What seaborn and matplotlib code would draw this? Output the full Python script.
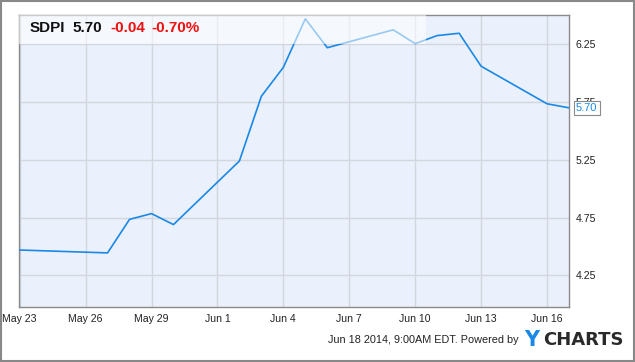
import numpy as np
import pandas as pd
import matplotlib
matplotlib.use("Agg")
import matplotlib.pyplot as plt
import matplotlib.transforms as mtransforms
from matplotlib.patches import Rectangle
import seaborn as sns

# ---- data ----
dates = ["2014-05-23", "2014-05-27", "2014-05-28", "2014-05-29", "2014-05-30",
         "2014-06-02", "2014-06-03", "2014-06-04", "2014-06-05", "2014-06-06",
         "2014-06-09", "2014-06-10", "2014-06-11", "2014-06-12", "2014-06-13",
         "2014-06-16", "2014-06-17"]
prices = [4.47, 4.445, 4.735, 4.785, 4.69, 5.24, 5.80, 6.05, 6.47, 6.22,
          6.375, 6.255, 6.325, 6.345, 6.06, 5.735, 5.70]
x_tick_dates = ["2014-05-23", "2014-05-26", "2014-05-29", "2014-06-01", "2014-06-04",
                "2014-06-07", "2014-06-10", "2014-06-13", "2014-06-16"]
x_tick_labels = ["May 23", "May 26", "May 29", "Jun 1", "Jun 4",
                 "Jun 7", "Jun 10", "Jun 13", "Jun 16"]
y_ticks = [4.25, 4.75, 5.25, 5.75, 6.25]
ticker = "SDPI"
last_price = "5.70"
change = "-0.04"
change_pct = "-0.70%"
footer = "Jun 18 2014, 9:00AM EDT. Powered by"

start = pd.Timestamp(dates[0])
df = pd.DataFrame({"date": pd.to_datetime(dates), "price": prices})
df["day"] = (df["date"] - start).dt.days
tick_days = [(pd.Timestamp(d) - start).days for d in x_tick_dates]

sns.set_style("white", {"axes.facecolor": "#eaf1fc"})
plt.rcParams["font.family"] = ["Liberation Sans", "DejaVu Sans"]

fig = plt.figure(figsize=(6.35, 3.62), dpi=100)
fig.patch.set_facecolor("white")
ax = fig.add_axes([19 / 635, 1 - 307 / 362, 550 / 635, 292 / 362])

LINE = "#1a88e6"
sns.lineplot(data=df, x="day", y="price", ax=ax, color=LINE, linewidth=1.2, zorder=3)

ax.set_xlim(-0.03, 25.0)
ax.set_ylim(3.977, 6.503)
ax.set_xticks(tick_days)
ax.set_xticklabels(x_tick_labels)
ax.set_yticks(y_ticks)
ax.set_yticklabels([f"{v:.2f}" for v in y_ticks])
ax.yaxis.tick_right()
ax.set_xlabel("")
ax.set_ylabel("")
ax.tick_params(axis="both", length=0, labelsize=7.6, colors="#222222")
ax.tick_params(axis="x", pad=5)
ax.tick_params(axis="y", pad=4.5)
ax.grid(True, color="#d3d6dc", linewidth=1.0, zorder=0)
ax.set_axisbelow(True)
for s in ax.spines.values():
    s.set_visible(True)
    s.set_color("#8a8a8a")
    s.set_linewidth(1.0)

# translucent header band over the upper-left of the plot
ax.add_patch(Rectangle((0, (6.25 - 3.977) / (6.503 - 3.977)), 0.74, 1,
                       transform=ax.transAxes, facecolor="white", alpha=0.55,
                       edgecolor="none", zorder=4, clip_on=True))

# header text
ty = 1 - 28.5 / 362
fig.text(30 / 635, ty, ticker, fontsize=11, fontweight="bold", color="#111111", va="center")
fig.text(72.5 / 635, ty, last_price, fontsize=11, fontweight="bold", color="#111111", va="center")
fig.text(110 / 635, ty, change, fontsize=11, fontweight="bold", color="#ee1111", va="center")
fig.text(151 / 635, ty, change_pct, fontsize=11, fontweight="bold", color="#ee1111", va="center")

# last value tag
trans = mtransforms.blended_transform_factory(ax.transAxes, ax.transData)
ax.text(1 + 7 / 550, prices[-1], last_price, transform=trans, fontsize=8, color=LINE,
        ha="left", va="center", zorder=6, clip_on=False,
        bbox=dict(boxstyle="square,pad=0.2", facecolor="white", edgecolor="#8a8a8a", linewidth=0.8))

# footer
fy = 1 - 340 / 362
fig.text(519 / 635, fy, footer, fontsize=7.8, color="#222222", ha="right", va="center")
fig.text(524 / 635, fy, "Y", fontsize=15, fontweight="bold", color="#1a88e6",
         ha="left", va="center", family="DejaVu Sans")
fig.text(543 / 635, fy, "CHARTS", fontsize=13, fontweight="bold", color="#2a2a2a",
         ha="left", va="center", family="DejaVu Sans")

# outer frame
fig.patches.append(Rectangle((0.0008, 0.0014), 0.9984, 0.9972, transform=fig.transFigure,
                             fill=False, edgecolor="#888888", linewidth=1.5))

fig.savefig("out.png", dpi=100)
